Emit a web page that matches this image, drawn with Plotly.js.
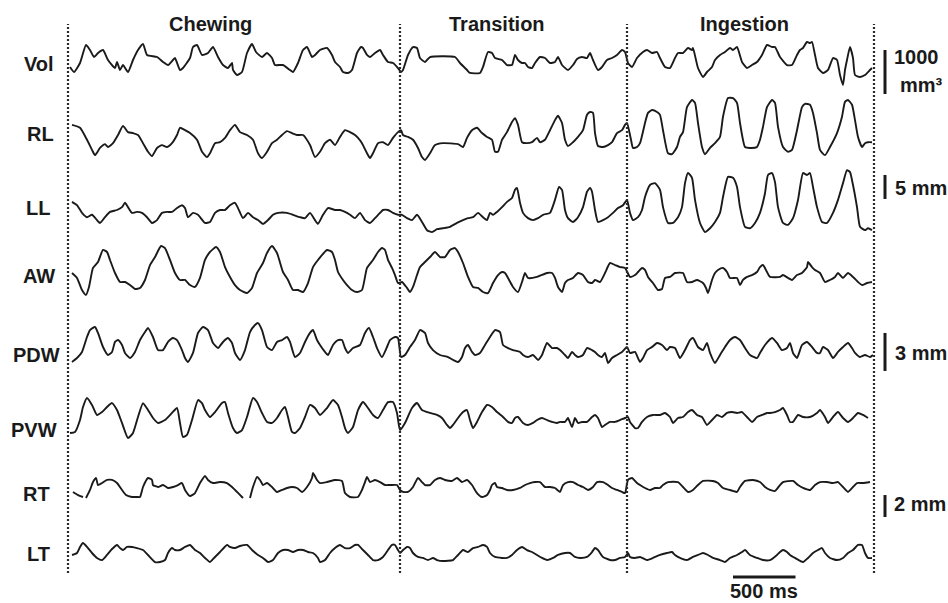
<!DOCTYPE html>
<html><head><meta charset="utf-8">
<script src="https://cdn.plot.ly/plotly-3.0.1.min.js"></script>
<style>html,body{margin:0;padding:0;background:#fff;} #chart{width:948px;height:603px;}</style>
</head><body><div id="chart"></div>
<script>
// ---------------- DATA (time in ms, values relative to trace mean) ----------------
const phaseNames = ["Chewing", "Transition", "Ingestion"];
const phaseBoundaries_ms = [0, 2656, 4472, 6448];
const traceNames = ["Vol", "RL", "LL", "AW", "PDW", "PVW", "RT", "LT"];
const traceUnits = ["mm³", "mm", "mm", "mm", "mm", "mm", "mm", "mm"];

// Vol (mm^3)
const t_vol = [16,48,96,144,176,208,240,280,320,376, 392,416,440,480,520,560,600,632,712,760,
 800,840,856,896,920,976,1000,1032,1072,1120, 1160,1200,1240,1280,1312,1320,1352,1392,1432,1472,
 1504,1552,1592,1632,1656,1720,1776,1800,1840,1880, 1912,1952,1976,2016,2072,2112,2136,2176,2200,2240,
 2272,2312,2344,2360,2392,2416,2456,2496,2520,2560, 2600,2640,2664,2680,2720,2760,2792,2816,2856,2896,
 3096,3136,3192,3216,3296,3320,3360,3392,3416,3472, 3512,3552,3576,3600,3632,3656,3680,3712,3736,3776,
 3816,3856,3896,3920,3952,4000,4040,4072,4112,4152, 4176,4200,4240,4272,4312,4352,4392,4432,4456,4480,
 4512,4552,4600,4632,4672,4712,4736,4776,4816,4856, 4880,4920,4960,4992,5000,5040,5080,5112,5152,5176,
 5216,5256,5296,5320,5352,5392,5432,5472,5512,5552, 5592,5632,5656,5696,5752,5792,5832,5856,5880,5912,
 5936,5952,5976,6000,6040,6080,6120,6152,6176,6200, 6216,6232,6256,6280,6296,6336,6376,6416,6432];
const v_vol = [-159,-273,-68,341,227,68,159,227,0,-182, -45,-227,-114,-273,0,227,364,114,68,-45,
 -114,0,45,-227,-182,45,295,341,114,159, 295,68,-114,-182,-68,-227,-341,-273,159,364,
 182,68,159,45,-114,-114,-227,-273,-68,227, 295,68,114,227,273,114,-45,-159,-273,-295,
 -227,159,295,273,114,68,159,227,114,-45, -68,-182,-273,-227,114,295,273,45,-45,68,
 68,-68,-227,-295,-295,-159,182,159,45,0, -114,-114,114,0,-68,-68,-159,-182,-68,68,
 45,-68,-45,68,-114,-227,-114,23,68,45, 159,0,-227,-159,0,45,114,227,182,-68,
 -159,45,182,227,159,182,45,-159,-182,45, 159,159,273,227,273,-182,-386,-273,-159,0,
 114,182,273,227,295,-45,-182,-114,-45,114, 341,295,295,68,-114,-114,114,227,273,409,
 386,409,114,-182,-295,-227,45,0,-341,-568, -227,0,295,45,-341,-386,-341,-227,-182];

// RL (mm)
const t_rl = [32,96,152,192,216,256,296,320,360,400, 440,480,520,560,600,640,672,712,752,792,
 832,872,896,936,976,1032,1072,1112,1136,1176, 1216,1256,1296,1336,1376,1432,1480,1520,1552,1592,
 1632,1672,1712,1752,1792,1832,1880,1936,1976,2016, 2056,2096,2136,2176,2216,2256,2296,2320,2352,2392,
 2416,2440,2480,2520,2560,2600,2640,2664,2680,2720, 2760,2800,2832,2856,2896,2936,3000,3120,3160,3192,
 3232,3272,3312,3352,3392,3416,3440,3472,3512,3552, 3576,3600,3632,3672,3712,3752,3776,3816,3856,3896,
 3920,3952,3976,4000,4040,4080,4120,4152,4176,4200, 4216,4240,4280,4320,4352,4392,4432,4456,4472,4504,
 4520,4552,4576,4616,4640,4672,4712,4736,4760,4800, 4832,4872,4896,4920,4952,4992,5016,5040,5072,5096,
 5136,5176,5216,5240,5280,5320,5352,5376,5416,5456, 5512,5536,5560,5592,5632,5656,5680,5720,5760,5792,
 5832,5872,5896,5936,5960,5992,6016,6056,6096,6152, 6192,6216,6240,6272,6296,6320,6352,6376,6400,6432];
const v_rl = [2.1,1.5,-1.0,-3.1,-4.2,-2.7,-1.9,-2.5,-1.7,0, 1.9,0.6,0.4,0,-1.7,-3.5,-4.4,-2.7,-2.1,-2.5,
 -1.7,0,1.5,1.0,0.4,-1.0,-3.5,-4.6,-3.8,-1.7, -1.5,-0.6,1.0,2.1,0.6,0,-1.0,-3.8,-4.8,-3.5,
 -1.7,-1.0,0,0.8,0.4,0,0,-2.1,-4.6,-3.5, -1.7,-1.0,-2.1,-0.4,1.0,0.6,0,-0.6,-1.7,-3.8,
 -4.8,-3.8,-1.7,-1.5,-2.1,-0.6,0.6,1.0,0,-0.4, -1.0,-2.7,-4.6,-5.2,-3.8,-2.1,-1.7,-1.9,-2.5,-0.6,
 1.0,1.5,0.4,-0.4,-1.0,-3.5,-3.5,-1.0,0.6,2.7, 3.5,2.1,-1.5,-1.7,-1.5,-0.6,-1.5,-1.0,1.0,3.1,
 4.0,2.5,-1.0,-2.3,-1.5,-0.4,1.0,4.2,4.8,4.6, 0.4,-2.3,-2.5,-2.1,-1.5,0.4,1.0,2.1,2.5,-1.0,
 -2.7,-2.5,-1.7,2.5,4.6,5.2,4.8,4.2,1.0,-3.8, -4.0,-2.5,-0.4,0.6,5.8,7.3,6.7,2.5,-2.5,-4.0,
 -2.7,-1.7,-0.4,3.8,7.7,7.7,6.7,2.5,-2.5,-2.7, -2.5,-1.0,1.7,5.8,7.3,6.7,1.7,-2.5,-3.5,-3.1,
 1.0,5.8,6.5,6.3,4.6,0.4,-3.1,-4.2,-2.5,0.4, 3.8,6.9,7.3,6.3,3.1,-0.4,-2.5,-1.7,-1.5,-1.5];

// LL (mm)
const t_ll = [32,72,112,152,192,232,256,296,336,392, 432,456,480,512,552,592,632,672,712,752,
 792,832,872,912,936,960,1000,1040,1096,1136, 1176,1216,1256,1296,1336,1360,1400,1440,1480,1520,
 1560,1600,1640,1680,1752,1800,1856,1896,1936,1976, 2000,2040,2080,2136,2176,2216,2256,2296,2336,2376,
 2416,2456,2496,2520,2560,2600,2640,2672,2712,2752, 2792,2832,2872,2912,2952,3000,3056,3112,3160,3200,
 3240,3280,3320,3352,3376,3400,3432,3472,3512,3552, 3576,3592,3616,3640,3680,3720,3760,3800,3856,3896,
 3928,3952,3976,4000,4040,4080,4120,4152,4176,4192, 4216,4240,4280,4320,4360,4400,4440,4472,4496,4520,
 4560,4592,4616,4656,4696,4736,4760,4800,4840,4880, 4912,4936,4960,4992,5016,5056,5096,5136,5176,5216,
 5240,5280,5320,5352,5376,5416,5456,5496,5536,5576, 5600,5632,5656,5680,5720,5760,5800,5840,5880,5912,
 5936,5960,5992,6032,6072,6120,6160,6200,6232,6256, 6280,6312,6336,6376,6400,6432];
const v_ll = [1.7,1.0,-0.6,-1.5,-1.0,-2.1,-2.7,-1.5,-0.4,0, 0.6,1.5,0.6,-0.6,-0.4,-0.6,-1.5,-2.7,-2.1,-0.6,
 -0.4,-0.4,0.4,1.0,0.4,-1.5,-0.6,-1.0,-2.7,-2.5, -0.6,0,0,1.0,1.5,0.4,-1.7,-0.6,-1.5,-2.1,
 -2.9,-2.1,-1.0,-0.6,-0.6,-1.0,-1.5,-1.7,-0.6,-2.1, -2.9,-1.0,0.4,0,0,-0.4,-1.0,-1.7,-0.6,-2.1,
 -2.7,-1.7,-0.6,0,0,-0.6,-1.0,-1.0,-1.7,-2.1, -1.0,-2.5,-4.2,-4.6,-4.0,-3.8,-3.5,-2.7,-2.1,-1.7,
 -1.5,-0.6,-1.5,-2.1,-0.6,-1.0,-0.4,0.6,1.7,2.5, 4.2,4.6,1.5,-0.6,-1.7,-2.1,-1.7,-1.0,-0.6,2.1,
 4.8,4.2,0,-1.7,-2.5,-1.5,0.6,3.8,4.6,3.8, 0,-2.5,-2.1,-1.5,-0.6,0.4,1.0,2.1,-0.6,-2.1,
 -1.5,0,2.7,5.2,5.6,4.2,0.6,-2.7,-2.7,-1.5, 0.6,5.6,7.7,6.7,2.1,-2.7,-4.6,-3.8,-2.5,-0.6,
 2.7,6.9,6.7,4.8,0.6,-3.5,-3.8,-2.7,-0.6,3.5, 7.3,7.7,5.8,0.6,-2.7,-3.1,-1.7,2.1,7.7,7.3,
 7.7,4.8,0.6,-2.5,-2.7,-0.6,2.1,5.6,8.3,7.9, 5.2,0.6,-3.5,-4.2,-3.8,-4.2];

// AW (mm)
const t_aw = [32,72,112,144,168,200,240,280,312,336, 376,416,456,496,536,576,616,656,696,744,
 776,816,856,896,936,976,1016,1056,1096,1136, 1184,1216,1256,1296,1336,1376,1432,1472,1512,1560,
 1592,1632,1672,1720,1760,1800,1840,1880,1920,1960, 2000,2072,2112,2136,2160,2200,2232,2272,2312,2352,
 2392,2440,2480,2512,2536,2560,2592,2616,2640,2672, 2712,2736,2760,2792,2816,2856,2896,2936,2976,3016,
 3056,3096,3120,3160,3200,3240,3280,3320,3360,3400, 3440,3472,3496,3520,3560,3600,3632,3656,3680,3752,
 3832,3872,3896,3920,3952,3976,4000,4040,4080,4120, 4160,4192,4216,4256,4296,4336,4376,4416,4456,4496,
 4536,4560,4592,4616,4640,4680,4720,4752,4776,4816, 4856,4920,4952,4992,5032,5080,5104,5120,5152,5176,
 5200,5240,5272,5296,5352,5376,5400,5432,5472,5512, 5536,5560,5592,5616,5696,5720,5760,5792,5832,5872,
 5912,5920,5952,5976,6016,6056,6096,6136,6160,6200, 6240,6280,6320,6352,6392,6432];
const v_aw = [-0.08,-0.47,-1.42,-1.81,-1.18,0.32,0.79,1.74,1.58,0.95, -0.08,-0.79,-0.79,-1.03,-1.34,-1.26,-0.63,0.55,1.18,2.05,
 1.89,0.95,-0.08,-0.63,-0.63,-1.03,-1.18,-0.47,0.95,1.58, 1.97,1.58,0.39,-0.39,-1.03,-1.42,-1.66,-1.26,-0.08,0.71,
 1.50,2.05,1.50,0,-0.63,-1.42,-1.42,-1.58,-0.87,0.39, 0.95,1.74,1.58,0.95,0,-0.63,-1.03,-1.42,-1.58,-1.42,
 0.32,0.95,1.58,1.89,1.74,0.95,0.32,-0.24,-0.87,-0.79, -1.26,-1.58,-1.18,-0.24,0.39,0.79,1.18,1.58,1.18,1.18,
 1.74,1.89,1.58,0.71,-0.39,-1.18,-1.26,-1.58,-1.66,-0.87, -0.24,0,-0.08,-0.47,-1.18,-1.58,-0.79,-0.08,-0.47,-0.39,
 -0.08,-0.08,-0.47,-1.18,-1.58,-0.87,-0.63,-0.47,-0.08,-0.24, -0.79,-0.87,-0.63,-0.79,-0.08,0.71,0.55,0.39,0.32,-0.39,
 -0.24,0,0.32,0.16,-0.39,-0.87,-1.42,-1.34,-0.47,-0.39, -0.08,-0.08,-0.79,-0.79,-0.63,-0.87,-1.26,-1.66,-0.63,-0.08,
 0.16,0.32,0,-0.47,-0.47,-1.03,-0.63,-0.39,-0.24,0, 0.39,0.55,0,-0.39,-0.39,-0.24,-0.47,-0.63,-0.24,-0.08,
 0.39,0.79,0.39,0.16,-0.08,-0.79,-0.63,-0.39,-0.08,-0.47, -0.08,-0.39,-0.79,-1.03,-0.87,-0.79];

// PDW (mm)
const t_pdw = [32,72,112,152,176,216,240,280,320,352, 376,400,432,456,496,536,576,616,640,680,
 720,760,800,840,872,912,936,960,1000,1040, 1080,1120,1160,1200,1240,1280,1312,1336,1376,1416,
 1456,1496,1520,1552,1592,1632,1672,1712,1752,1776, 1816,1856,1896,1936,1960,1992,2016,2056,2080,2120,
 2160,2192,2216,2240,2280,2336,2376,2408,2440,2472, 2512,2552,2576,2616,2640,2664,2696,2736,2776,2816,
 2856,2880,2920,2976,3040,3080,3120,3152,3176,3200, 3232,3256,3296,3336,3376,3416,3456,3480,3520,3560,
 3616,3640,3680,3720,3760,3792,3832,3872,3912,3936, 3976,4000,4032,4056,4080,4120,4152,4192,4216,4240,
 4272,4296,4320,4352,4392,4432,4472,4496,4536,4576, 4600,4632,4672,4712,4752,4792,4816,4856,4896,4936,
 4976,5000,5040,5080,5112,5136,5176,5216,5256,5296, 5336,5376,5416,5456,5512,5536,5576,5632,5672,5712,
 5752,5776,5800,5832,5872,5912,5952,5992,6016,6040, 6080,6120,6160,6200,6240,6272,6296,6336,6376,6416,
 6440];
const v_pdw = [-1.26,-0.95,-0.47,0.71,1.26,1.50,1.03,-0.08,-0.71,-0.47, 0.32,0.47,0.08,-0.55,-0.95,-0.47,0.47,1.10,1.42,0.71,
 -0.32,-0.32,0.32,0.63,0.47,-0.32,-0.95,-1.26,-0.55,1.03, 1.50,1.26,0.24,-0.16,0.32,0.63,0.24,-0.55,-1.10,-0.32,
 1.10,1.66,1.81,1.26,-0.08,-0.32,0.32,0.47,0.71,0.32, -0.87,-0.55,0.32,1.03,1.26,0.47,0.08,-0.47,-0.71,0.08,
 0.47,0.47,-0.16,-0.55,-0.16,0.08,1.03,1.42,0.71,-0.16, -0.87,-0.08,0.47,0.71,0.63,-0.87,-0.71,-0.08,0.47,1.26,
 1.03,0.24,-0.32,-0.71,-0.87,-1.10,-1.26,-0.87,-0.16,0.08, -0.47,-0.71,-0.55,0.08,0.71,1.26,1.10,0.08,-0.16,-0.32,
 -0.47,-0.71,-0.87,-0.71,-1.10,-0.71,0.24,-0.16,-0.16,-0.32, -0.71,-0.95,-0.47,-0.71,-0.87,-0.71,-0.16,-0.32,-0.47,-0.71,
 -0.87,-0.55,-1.34,-0.95,-0.71,-0.47,-0.08,-0.55,-0.47,-1.26, -0.95,-0.32,-0.08,0.24,0.08,-0.32,-0.08,-0.16,-0.95,-0.32,
 0.47,0.63,-0.08,-0.32,0.24,-0.55,-1.34,-0.71,-0.08,0.47, 0.71,0.47,-0.16,-0.71,-0.95,-0.55,0.08,0.63,0.24,-0.32,
 -0.16,0.24,-0.55,-0.95,0.08,0.32,-0.08,-0.55,-0.55,-0.08, -0.32,-0.95,-0.47,-0.08,0.24,-0.16,-0.55,-0.87,-0.71,-0.87,
 -0.71];

// PVW (mm)
const t_pvw = [16,56,96,120,152,192,232,272,312,352, 392,432,480,520,560,600,640,680,720,776,
 832,872,896,920,952,992,1040,1072,1096,1136, 1176,1232,1256,1280,1320,1352,1392,1432,1480,1512,
 1552,1592,1632,1672,1712,1736,1760,1792,1816,1856, 1896,1936,1976,2016,2072,2120,2160,2192,2216,2240,
 2280,2320,2360,2400,2440,2480,2520,2560,2600,2632, 2656,2696,2752,2792,2832,2896,2952,2992,3032,3056,
 3080,3120,3160,3192,3216,3240,3272,3312,3352,3392, 3432,3480,3520,3552,3576,3600,3640,3680,3720,3752,
 3792,3832,3872,3912,3936,3976,4000,4032,4056,4080, 4112,4152,4192,4216,4240,4272,4296,4336,4376,4416,
 4456,4480,4496,4536,4560,4592,4632,4680,4736,4776, 4816,4840,4880,4920,4960,4992,5032,5072,5112,5152,
 5192,5232,5272,5312,5352,5392,5432,5472,5512,5552, 5592,5616,5656,5696,5720,5752,5776,5800,5840,5880,
 5936,5992,6016,6056,6080,6120,6160,6200,6240,6280, 6320,6360,6400];
const v_pvw = [-1.26,-1.18,-0.24,0.79,1.50,0.95,0.16,0.39,0.79,1.10, 0.55,-0.47,-1.66,-1.26,0,1.10,0.55,-0.08,-0.47,-0.24,
 0.32,0.71,-0.47,-1.58,-1.42,-0.24,1.34,1.10,0.55,0, 0.39,1.10,1.18,0.32,-0.87,-1.26,-1.03,0,1.50,1.18,
 0.32,-0.39,-0.47,-0.08,0.55,0.79,0,-1.18,-1.26,-0.87, 0,0.95,0.71,0.16,0.71,1.34,0.95,0,-0.87,-1.26,
 -0.79,0.55,1.18,0.71,0.16,-0.08,0.55,1.18,1.18,0.32, -1.03,-0.47,0.71,1.10,0.55,0.32,0.16,-0.08,-0.63,-0.87,
 -0.63,-0.08,0.39,0.55,-0.24,-0.87,-0.39,0.39,0.95,0.79, 0.39,0,-0.39,-0.47,-0.08,0,-0.47,-0.63,-0.47,-0.24,
 -0.08,-0.24,-0.39,-0.47,-0.39,-0.39,-0.08,-0.79,-0.08,-0.47, -0.39,-0.39,0,0.16,-0.08,-0.79,-0.63,-0.39,-0.39,-0.24,
 -0.08,0,-0.39,-0.87,-0.87,-0.39,0,0.16,0.16,0.32, 0,-0.47,-0.08,0,0.39,0.55,0.16,0,-0.63,-0.24,
 0.16,0,0.32,0.39,0.32,0.39,0,-0.39,0,0.16, 0.32,0.32,0.39,0.55,0.71,0.16,-0.39,-0.39,0.16,0,
 0,0.32,0.55,0,-0.47,0,0.39,-0.08,-0.39,-0.08, 0.32,0.16,-0.08];

// RT (mm), null = gap in the recording
const t_rt = [40,80,120,132,144,176,200,224,240,272, 312,352,392,432,464,512,552,576,600,640,
 672,680,720,760,800,840,880,912,936,976, 1016,1056,1096,1120,1160,1216,1272,1312,1352,1392,
 1400,1428,1456,1480,1512,1536,1560,1592,1632,1672, 1712,1752,1792,1832,1872,1912,1952,1960,1992,2016,
 2072,2136,2192,2216,2256,2320,2352,2376,2392,2416, 2456,2496,2536,2576,2632,2656,2680,2720,2760,2800,
 2832,2856,2896,2936,2976,3016,3072,3112,3152,3192, 3232,3272,3312,3352,3376,3392,3416,3432,3472,3512,
 3560,3616,3656,3696,3736,3776,3816,3856,3896,3936, 3960,4000,4040,4080,4120,4160,4200,4232,4280,4320,
 4352,4392,4432,4456,4480,4512,4552,4576,4616,4656, 4696,4736,4760,4800,4880,4920,4960,5000,5040,5080,
 5160,5200,5240,5296,5352,5376,5416,5480,5536,5576, 5616,5656,5696,5720,5800,5840,5880,5936,5976,6016,
 6072,6120,6160,6200,6240,6280,6312,6360,6416];
const v_rt = [-0.45,-0.73,-0.91,null,-1.0,-0.27,0.45,0.82,0.18,0.36, 0.64,0.64,0.36,-0.27,-0.73,-0.91,-0.91,-0.91,0,0.82,
 0.64,0.18,0,0.18,-0.09,0,0.18,0.36,-0.27,-0.82, -0.55,0.36,1.0,0.64,0.36,0.45,0.36,0,-0.45,-0.91,
 -1.0,null,-1.0,0,0.91,0.64,0.18,0.36,0,-0.45, -0.27,-0.09,0,-0.09,-0.45,0,0.82,1.27,0.64,0.36,
 0.45,0.64,0.55,-0.55,-0.91,-0.91,-0.27,0.45,0.91,0.45, 0.64,0.45,0.18,0.18,0.18,-0.27,-0.45,-0.45,0,0.82,
 0.45,0.18,0.18,0.64,0.82,0.64,0.55,0.82,0.45,0.64, 0.18,-0.55,-0.91,-0.73,-0.27,0.18,0.36,0,-0.09,-0.27,
 -0.27,-0.09,0.18,0.36,0.45,0.45,0,0,-0.09,-0.45, 0.18,0.45,0.45,0.18,0,-0.27,0,0.45,0.45,0.18,
 -0.09,-0.27,-0.45,-0.55,0.64,0.82,0.36,0.18,-0.09,-0.27, -0.09,-0.09,0.18,0.45,0.45,0,-0.45,-0.27,0.18,0.55,
 0.55,0.36,-0.09,-0.27,-0.45,0,0.55,0.64,0.45,0, -0.27,-0.36,0.18,0.45,0.55,0.18,-0.09,-0.27,0.18,0.45,
 0.45,0.36,0.45,0,-0.45,0,0.36,0.36,0.45];

// LT (mm)
const t_lt = [32,72,96,120,152,192,232,272,312,352, 392,416,440,472,512,552,600,640,696,736,
 776,800,832,856,896,936,976,1016,1056,1096, 1136,1176,1216,1272,1296,1336,1376,1432,1472,1520,
 1560,1600,1640,1680,1720,1760,1800,1840,1880,1920, 1960,2000,2016,2056,2096,2136,2176,2216,2256,2296,
 2320,2360,2400,2440,2480,2520,2560,2592,2616,2640, 2656,2680,2712,2736,2760,2800,2840,2880,2920,2952,
 3000,3080,3120,3160,3200,3240,3280,3320,3352,3376, 3416,3472,3512,3552,3592,3632,3672,3712,3752,3792,
 3832,3880,3920,3976,4016,4056,4096,4152,4192,4216, 4240,4280,4336,4376,4416,4456,4480,4496,4536,4576,
 4632,4680,4736,4792,4832,4856,4896,4952,5000,5040, 5080,5120,5160,5216,5256,5296,5352,5392,5416,5456,
 5512,5560,5616,5672,5696,5720,5752,5776,5816,5880, 5920,5960,6000,6032,6056,6096,6152,6200,6240,6280,
 6320,6352,6376,6400,6432];
const v_lt = [-0.18,0,0.55,0.91,0.55,0,-0.45,-0.64,-0.18,0.36, 0.73,0.45,0.27,0.55,0.55,0.45,0.27,-0.18,-0.82,-0.82,
 -0.64,0,0.45,0.27,0.27,0.55,0.73,0.27,0,-0.45, -0.82,-0.36,0.09,0.73,0.55,0.45,0.64,0.73,0.27,-0.18,
 -0.45,-0.82,-0.64,0,0.27,0.27,0.09,0.27,0.27,0.09, 0,-0.45,-0.82,-0.64,0,0.45,0.73,0.45,0.45,0.73,
 0.73,0.27,-0.18,-0.64,-0.64,-0.36,0.27,0.73,0.73,0.27, 0,0.27,0.55,0.45,0,-0.36,-0.45,-0.64,-0.45,-0.64,
 -0.73,-0.64,-0.18,0.27,0.09,0.45,0.55,0.73,0.55,0, -0.36,-0.45,-0.45,-0.18,0.27,0.55,0.27,0.09,-0.18,-0.45,
 -0.64,-0.45,-0.18,0,0,-0.36,-0.45,-0.36,0.09,0.45, 0.27,-0.36,-0.64,-0.64,-0.45,-0.36,0,-0.36,-0.45,-0.36,
 -0.64,-0.45,-0.18,0,0.09,-0.18,-0.45,-0.64,-0.36,-0.18, 0,-0.18,-0.45,-0.64,-0.82,-0.45,-0.18,0.09,0.27,-0.18,
 -0.45,-0.64,-0.64,-0.18,0.09,0.27,0.09,-0.18,-0.45,-0.82, -0.45,0,0.27,0.45,0,-0.45,-0.64,-0.45,0,0.27,
 0.73,0.73,0,-0.45,-0.45];

// Scale bars (physical sizes)
const scaleBarValues = [1000, 5, 3, 2];      // mm3, mm, mm, mm
const timeBar_ms = 500;
const timeBarLabel = "500 ms";

// ---------------- LAYOUT / STYLE ----------------
const W = 948, H = 603;
const X0PX = 68, MS_PER_PX = 8;           // horizontal calibration
const pxT = px => (px - X0PX) * MS_PER_PX;
const FONT = 'Arial, "Liberation Sans", Helvetica, sans-serif';
const INK = '#1a1a1a';
const HALF = 48;                          // half-height of each strip, px

// per-trace layout: centre row (px), units per px, label centre (px)
const rows = [
  {t:t_vol, v:v_vol, c:60,  upp:1000/44, lx:39, ly:64},
  {t:t_rl,  v:v_rl,  c:135, upp:5/24,    lx:40, ly:134},
  {t:t_ll,  v:v_ll,  c:210, upp:5/24,    lx:38, ly:208},
  {t:t_aw,  v:v_aw,  c:272, upp:3/38,    lx:39, ly:276},
  {t:t_pdw, v:v_pdw, c:346, upp:3/38,    lx:36, ly:355},
  {t:t_pvw, v:v_pvw, c:417, upp:3/38,    lx:34, ly:430},
  {t:t_rt,  v:v_rt,  c:487, upp:2/22,    lx:36, ly:494},
  {t:t_lt,  v:v_lt,  c:553, upp:2/22,    lx:38, ly:554}
];

const traces = [];
const layout = {
  width: W, height: H,
  margin: {l:0, r:0, t:0, b:0, pad:0},
  paper_bgcolor: '#fff', plot_bgcolor: 'rgba(0,0,0,0)',
  showlegend: false,
  xaxis: {range:[pxT(0), pxT(W)], domain:[0,1], visible:false, fixedrange:true},
  shapes: [], annotations: []
};
const yName = i => i === 0 ? 'y' : 'y' + (i + 1);
const yKey  = i => i === 0 ? 'yaxis' : 'yaxis' + (i + 1);
const py2paper = py => 1 - py / H;
const px2paper = px => px / W;

rows.forEach((r, i) => {
  traces.push({
    x: r.t, y: r.v, type: 'scatter', mode: 'lines', name: traceNames[i],
    xaxis: 'x', yaxis: yName(i), connectgaps: false,
    line: {color: INK, width: 1.9, shape: 'spline', smoothing: 0.5}, hoverinfo: 'skip'
  });
  layout[yKey(i)] = {
    domain: [py2paper(r.c + HALF), py2paper(r.c - HALF)],
    range: [-HALF * r.upp, HALF * r.upp],
    anchor: 'x', visible: false, fixedrange: true
  };
  layout.annotations.push({
    text: '<b>' + traceNames[i] + '</b>', xref: 'paper', yref: 'paper',
    x: px2paper(r.lx), y: py2paper(r.ly), xanchor: 'center', yanchor: 'middle',
    showarrow: false, font: {family: FONT, size: 20, color: INK}
  });
});

// phase boundaries (dotted)
phaseBoundaries_ms.forEach(tb => {
  layout.shapes.push({type:'line', xref:'x', yref:'paper', x0:tb, x1:tb,
    y0: py2paper(573), y1: py2paper(24),
    line:{color:'#2a2a2a', width:2.2, dash:'2px,2px'}});
});
// phase titles centred over their sections
phaseNames.forEach((p, i) => {
  const mid = [210, 497, 744][i];
  layout.annotations.push({text:'<b>' + p + '</b>', xref:'paper', yref:'paper',
    x: px2paper(mid), y: py2paper(24), xanchor:'center', yanchor:'middle',
    showarrow:false, font:{family:FONT, size:20, color:INK}});
});

// vertical scale bars, in data units of the axis they measure
const barT = pxT(885);
const bars = [
  {ax:0, lo:-773},
  {ax:2, lo:2.3},
  {ax:4, lo:-1.97},
  {ax:6, lo:-2.73}
];
bars.forEach((b, k) => {
  layout.shapes.push({type:'line', xref:'x', yref:yName(b.ax),
    x0:barT, x1:barT, y0:b.lo, y1:b.lo + scaleBarValues[k],
    line:{color:INK, width:3}});
});
const rightTexts = [["1000", 892, 57], ["mm³", 898, 85], ["5 mm", 893, 188], ["3 mm", 893, 353], ["2 mm", 892, 504]];
rightTexts.forEach(([s, x, y]) => {
  layout.annotations.push({text:'<b>' + s + '</b>', xref:'paper', yref:'paper',
    x:px2paper(x), y:py2paper(y), xanchor:'left', yanchor:'middle',
    showarrow:false, font:{family:FONT, size:20, color:INK}});
});

// time scale bar
const tbStart = pxT(733);
layout.shapes.push({type:'line', xref:'x', yref:'paper', x0:tbStart, x1:tbStart + timeBar_ms,
  y0:py2paper(577), y1:py2paper(577), line:{color:INK, width:3}});
layout.annotations.push({text:'<b>' + timeBarLabel + '</b>', xref:'x', yref:'paper',
  x: tbStart + timeBar_ms/2, y: py2paper(591), xanchor:'center', yanchor:'middle',
  showarrow:false, font:{family:FONT, size:20, color:INK}});

Plotly.newPlot('chart', traces, layout, {staticPlot:true, displayModeBar:false});
</script></body></html>
